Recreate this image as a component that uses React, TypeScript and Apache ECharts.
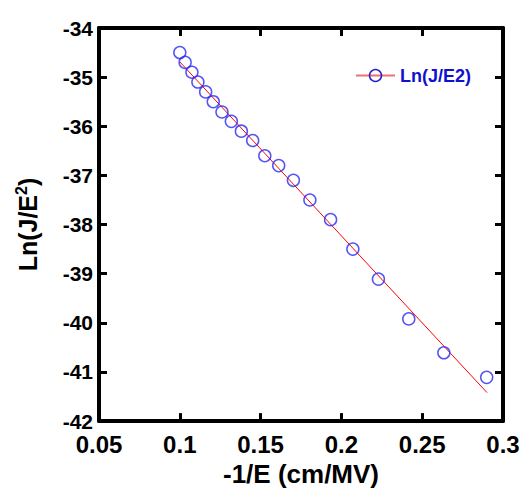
import React, { useEffect, useRef } from "react";
import * as echarts from "echarts";

const xValues = [0.1, 0.1033, 0.1075, 0.1112, 0.116, 0.1207, 0.1261, 0.1319, 0.1381, 0.1451, 0.1526, 0.1612, 0.1703, 0.1805, 0.1933, 0.2071, 0.2229, 0.2417, 0.2634, 0.2899];
const yValues = [-34.5, -34.7, -34.9, -35.1, -35.3, -35.5, -35.71, -35.9, -36.1, -36.29, -36.6, -36.8, -37.1, -37.5, -37.9, -38.5, -39.11, -39.92, -40.61, -41.11];
const fitX = [0.1, 0.2901];
const fitY = [-34.69, -41.42];
const xTicks = { min: 0.05, max: 0.3, interval: 0.05 };
const yTicks = { min: -42, max: -34, interval: 1 };
const seriesName = "Ln(J/E2)";

export default function App() {
  const ref = useRef<HTMLDivElement>(null);
  useEffect(() => {
    const chart = echarts.init(ref.current!, null, { renderer: "svg" });
    const font = "Liberation Sans, Arial, sans-serif";
    const axisLine = { show: true, onZero: false, lineStyle: { color: "#000", width: 4 } };
    const axisTick = { show: true, inside: true, length: 8, lineStyle: { color: "#000", width: 3 } };
    const fmtX = (v: number) => String(parseFloat(v.toFixed(2)));
    chart.setOption({
      animation: false,
      backgroundColor: "#fff",
      grid: { left: 99, right: 20, top: 28, bottom: 61, containLabel: false },
      xAxis: [
        {
          type: "value", position: "bottom", ...xTicks,
          axisLine, axisTick, splitLine: { show: false },
          axisLabel: { margin: 11, color: "#000", fontSize: 24, fontWeight: "bold", fontFamily: font, formatter: fmtX },
          name: "-1/E (cm/MV)", nameLocation: "middle", nameGap: 36,
          nameTextStyle: { color: "#000", fontSize: 26, fontWeight: "bold", fontFamily: font },
        },
        {
          type: "value", position: "top", ...xTicks,
          axisLine, axisTick, splitLine: { show: false }, axisLabel: { show: false },
        },
      ],
      yAxis: [
        {
          type: "value", position: "left", ...yTicks,
          axisLine, axisTick, splitLine: { show: false },
          axisLabel: { margin: 6, color: "#000", fontSize: 21, fontWeight: "bold", fontFamily: font },
          name: "{a|Ln(J/E}{s|2}{a|)}", nameLocation: "middle", nameGap: 57,
          nameTextStyle: {
            color: "#000", fontSize: 25, fontWeight: "bold", fontFamily: font,
            rich: {
              a: { fontSize: 25, fontWeight: "bold", fontFamily: font, color: "#000", lineHeight: 28 },
              s: { fontSize: 16, fontWeight: "bold", fontFamily: font, color: "#000", lineHeight: 28, padding: [0, 0, 13, 0] },
            },
          },
        },
        {
          type: "value", position: "right", ...yTicks,
          axisLine, axisTick, splitLine: { show: false }, axisLabel: { show: false },
        },
      ],
      series: [
        {
          type: "line",
          name: "fit",
          data: fitX.map((x, i) => [x, fitY[i]]),
          showSymbol: false,
          lineStyle: { color: "#ff0000", width: 1 },
          z: 2,
        },
        {
          type: "scatter",
          name: seriesName,
          data: xValues.map((x, i) => [x, yValues[i]]),
          symbol: "circle",
          symbolSize: 12,
          itemStyle: { color: "transparent", borderColor: "#2a2af0", borderWidth: 1.5 },
          z: 3,
        },
      ],
      graphic: [
        { type: "line", shape: { x1: 356, y1: 75.5, x2: 395, y2: 75.5 }, style: { stroke: "#f07070", lineWidth: 2 } },
        { type: "circle", shape: { cx: 375.5, cy: 75.5, r: 6 }, style: { fill: "none", stroke: "#2222cc", lineWidth: 1.5 } },
        {
          type: "text", x: 400, y: 76,
          style: { text: seriesName, fill: "#1010d0", font: "bold 18px Liberation Sans, Arial, sans-serif", verticalAlign: "middle" },
        },
      ],
    });
    return () => chart.dispose();
  }, []);
  return <div ref={ref} style={{ width: 523, height: 492, position: "absolute", left: 0, top: 0 }} />;
}
